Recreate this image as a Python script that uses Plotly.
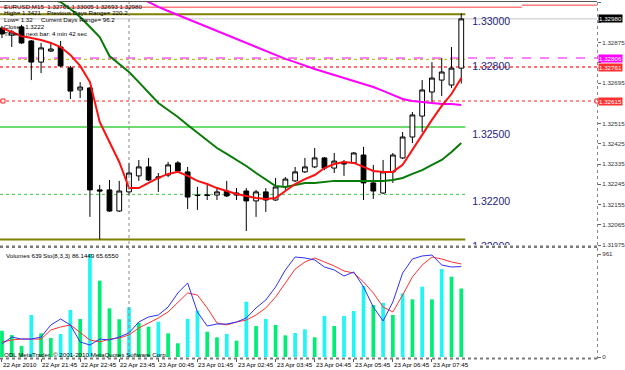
import plotly.graph_objects as go

# ---------------- data ----------------
x_tick_bars = [0, 4, 8, 12, 16, 20, 24, 28, 32, 36, 40, 44]
x_tick_labels = ["22 Apr 2010", "22 Apr 21:45", "22 Apr 22:45", "22 Apr 23:45",
                 "23 Apr 00:45", "23 Apr 01:45", "23 Apr 02:45", "23 Apr 03:45",
                 "23 Apr 04:45", "23 Apr 05:45", "23 Apr 06:45", "23 Apr 07:45"]

opens = [1.32939, 1.32908, 1.32944, 1.32882, 1.32788, 1.32837, 1.32855, 1.32762,
         1.32664, 1.32673, 1.32220, 1.32220, 1.32126, 1.32211, 1.32282, 1.32322,
         1.32273, 1.32286, 1.32340, 1.32300, 1.32197, 1.32195, 1.32197, 1.32215,
         1.32197, 1.32215, 1.32171, 1.32211, 1.32175, 1.32233, 1.32260, 1.32300,
         1.32322, 1.32362, 1.32317, 1.32344, 1.32340, 1.32375, 1.32251, 1.32206,
         1.32300, 1.32362, 1.32455, 1.32548, 1.32655, 1.32708, 1.32686, 1.32761]
highs = [1.32948, 1.32931, 1.32953, 1.32886, 1.32873, 1.32877, 1.32882, 1.32771,
         1.32699, 1.32677, 1.32242, 1.32264, 1.32260, 1.32340, 1.32353, 1.32362,
         1.32295, 1.32344, 1.32348, 1.32322, 1.32233, 1.32242, 1.32233, 1.32260,
         1.32228, 1.32228, 1.32220, 1.32228, 1.32273, 1.32277, 1.32322, 1.32362,
         1.32406, 1.32366, 1.32384, 1.32353, 1.32388, 1.32411, 1.32331, 1.32353,
         1.32384, 1.32477, 1.32566, 1.32708, 1.32788, 1.32806, 1.32855, 1.33005]
lows = [1.32895, 1.32855, 1.32868, 1.32708, 1.32739, 1.32833, 1.32766, 1.32624,
        1.32628, 1.32100, 1.32000, 1.32122, 1.32122, 1.32197, 1.32260, 1.32260,
        1.32211, 1.32277, 1.32300, 1.32135, 1.32131, 1.32175, 1.32175, 1.32188,
        1.32175, 1.32037, 1.32100, 1.32122, 1.32171, 1.32220, 1.32255, 1.32295,
        1.32317, 1.32308, 1.32295, 1.32282, 1.32335, 1.32175, 1.32180, 1.32202,
        1.32251, 1.32357, 1.32428, 1.32477, 1.32611, 1.32637, 1.32673, 1.32693]
closes = [1.32913, 1.32922, 1.32873, 1.32788, 1.32851, 1.32846, 1.32771, 1.32659,
          1.32677, 1.32220, 1.32215, 1.32126, 1.32215, 1.32295, 1.32322, 1.32264,
          1.32277, 1.32331, 1.32304, 1.32188, 1.32195, 1.32197, 1.32211, 1.32193,
          1.32206, 1.32171, 1.32211, 1.32175, 1.32233, 1.32268, 1.32300, 1.32322,
          1.32362, 1.32317, 1.32348, 1.32335, 1.32384, 1.32251, 1.32215, 1.32300,
          1.32375, 1.32455, 1.32553, 1.32664, 1.32717, 1.32744, 1.32761, 1.32980]

ma_red = [1.32939, 1.32922, 1.32904, 1.32895, 1.32886, 1.32873, 1.32855, 1.32820,
          1.32771, 1.32699, 1.32522, 1.32433, 1.32344, 1.32228, 1.32228, 1.32251,
          1.32273, 1.32291, 1.32300, 1.32282, 1.32260, 1.32246, 1.32228, 1.32215,
          1.32202, 1.32193, 1.32184, 1.32180, 1.32184, 1.32215, 1.32246, 1.32268,
          1.32286, 1.32317, 1.32335, 1.32344, 1.32340, 1.32322, 1.32304, 1.32300,
          1.32300, 1.32331, 1.32397, 1.32468, 1.32531, 1.32593, 1.32646, 1.32717]
ma_green = [1.33175, 1.33144, 1.33117, 1.33095, 1.33077, 1.33068, 1.33055, 1.33024,
            1.32988, 1.32944, 1.32899, 1.32815, 1.32780, 1.32744, 1.32699, 1.32651,
            1.32606, 1.32575, 1.32544, 1.32508, 1.32473, 1.32442, 1.32406, 1.32380,
            1.32353, 1.32326, 1.32295, 1.32264, 1.32237, 1.32233, 1.32242, 1.32251,
            1.32251, 1.32255, 1.32260, 1.32260, 1.32260, 1.32260, 1.32260, 1.32260,
            1.32264, 1.32273, 1.32291, 1.32308, 1.32331, 1.32353, 1.32388, 1.32428]
ma_magenta = [None, None, None, None, None, None, None, None, None, None, None, None, None,
              1.33099, 1.33077, 1.33055, 1.33033, 1.33015, 1.32997, 1.32980, 1.32962,
              1.32944, 1.32926, 1.32908, 1.32891, 1.32873, 1.32855, 1.32837, 1.32820,
              1.32802, 1.32788, 1.32771, 1.32757, 1.32744, 1.32731, 1.32717, 1.32704,
              1.32691, 1.32677, 1.32660, 1.32642, 1.32624, 1.32615, 1.32611, 1.32606,
              1.32602, 1.32602, 1.32597]

volumes = [245, 205, 103, 392, 221, 177, 215, 439, 355, 961, 712, 454, 352, 464, 320, 283,
           329, 221, 128, 355, 432, 236, 184, 215, 152, 516, 289, 355, 299, 202, 224, 258,
           184, 383, 289, 383, 429, 662, 485, 507, 392, 594, 538, 656, 538, 821, 749, 639]

stoch_main = [12.4, 19.0, 17.1, 17.1, 19.0, 30.5, 36.2, 30.5, 14.3, 11.4, 17.1, 16.2,
              19.0, 22.9, 33.3, 38.1, 40.0, 47.6, 61.0, 70.5, 42.9, 29.5, 31.4, 31.4,
              33.3, 37.1, 46.7, 54.3, 66.7, 82.9, 95.2, 94.3, 92.4, 85.7, 82.9, 77.1,
              81.0, 66.7, 47.6, 34.3, 52.4, 80.0, 93.3, 96.2, 97.1, 87.6, 85.7, 86.1]
stoch_signal = [14.3, 16.2, 17.1, 17.1, 17.1, 25.7, 28.6, 30.5, 22.9, 16.2, 14.3, 17.1,
                18.1, 21.0, 27.6, 32.4, 37.1, 42.9, 52.4, 61.0, 59.0, 46.7, 32.4, 30.5,
                33.3, 35.2, 40.0, 46.7, 57.1, 70.5, 83.8, 90.5, 94.3, 90.5, 86.7, 81.9,
                80.0, 71.4, 61.0, 47.6, 42.9, 59.0, 76.2, 87.6, 95.2, 93.3, 90.5, 88.6]

price_ticks = [1.33055, 1.32965, 1.32875, 1.32785, 1.32695, 1.32605, 1.32515,
               1.32425, 1.32335, 1.32245, 1.32155, 1.32065, 1.31975]
# labels hidden under the price tags in the reference are left blank
price_tick_labels = ["1.33055", "", "1.32875", "", "1.32695", "", "1.32515",
                     "1.32425", "1.32335", "1.32245", "1.32155", "1.32065", "1.31975"]
vol_ticks = [0, 961]
vol_tick_labels = ["0", "961"]

round_levels = [1.33000, 1.32800, 1.32500, 1.32200, 1.32000]
round_level_labels = ["1.33000", "1.32800", "1.32500", "1.32200", "1.32000"]

line_levels = [1.33032, 1.33041, 1.33000, 1.32980, 1.32806, 1.32800, 1.32766, 1.32615,
               1.32500, 1.32200, 1.32000]

tag_prices = [1.32980, 1.32806, 1.32766, 1.32615]
tag_labels = ["1.32980", "1.32806", "1.32761", "1.32615"]

header_lines = ["EURUSD,M15  1.32761 1.33005 1.32693 1.32980",
                "High= 1.3421", "Low= 1.32", "Close= 1.3222",
                "Time to next bar: 4 min 42 sec"]
header_extra = ["Previous Days Range= 220.2", "Current Days Range= 96.2"]
sub_label = ["Volumes 639", "Sto(8,3,3) 86.1449 65.6550"]
copyright_text = "ODL MetaTrader, \u00a9 2001-2010 MetaQuotes Software Corp."
cursor_bar = 13

# ---------------- geometry / style ----------------
W, H = 625, 370
ML, MR, MT, MB = 0, 22, 2, 12
PW = W - ML - MR
PH = H - MT - MB
BAR_PX = 9.87
X0_PX = 2.0
FONT = "Liberation Sans, Arial, sans-serif"


def py(y):
    return (H - MB - y) / PH


def px(x):
    return (x - ML) / PW


bars = list(range(len(opens)))
x_range = [-X0_PX / BAR_PX, (PW - X0_PX) / BAR_PX]

fig = go.Figure()

fig.add_trace(go.Candlestick(
    x=bars, open=opens, high=highs, low=lows, close=closes,
    increasing=dict(line=dict(color="#000000", width=1), fillcolor="#FFFFFF"),
    decreasing=dict(line=dict(color="#000000", width=1), fillcolor="#000000"),
    whiskerwidth=0, showlegend=False, hoverinfo="skip", xaxis="x", yaxis="y"))

fig.add_trace(go.Scatter(x=bars, y=ma_magenta, mode="lines", line=dict(color="#FF00FF", width=2),
                         showlegend=False, hoverinfo="skip", xaxis="x", yaxis="y"))
fig.add_trace(go.Scatter(x=bars, y=ma_green, mode="lines", line=dict(color="#087A08", width=2),
                         showlegend=False, hoverinfo="skip", xaxis="x", yaxis="y"))
fig.add_trace(go.Scatter(x=bars, y=ma_red, mode="lines", line=dict(color="#FF1010", width=2),
                         showlegend=False, hoverinfo="skip", xaxis="x", yaxis="y"))

LABEL_X = (474 - X0_PX) / BAR_PX
fig.add_trace(go.Scatter(x=[LABEL_X] * len(round_levels), y=round_levels, mode="markers+text",
                         marker=dict(size=3, opacity=0),
                         text=round_level_labels, textposition="bottom right",
                         textfont=dict(family=FONT, size=10.5, color="#25257F"),
                         cliponaxis=True, showlegend=False, hoverinfo="skip",
                         xaxis="x", yaxis="y"))

vol_colors = ["#00EE76"] + ["#22F5F5" if volumes[i] > volumes[i - 1] else "#00EE76"
                            for i in range(1, len(volumes))]
fig.add_trace(go.Bar(x=bars, y=volumes, marker=dict(color=vol_colors, line=dict(width=0)),
                     width=0.38, showlegend=False, hoverinfo="skip", xaxis="x2", yaxis="y2"))
fig.add_trace(go.Scatter(x=bars, y=stoch_signal, mode="lines", line=dict(color="#FF3030", width=1),
                         showlegend=False, hoverinfo="skip", xaxis="x2", yaxis="y3"))
fig.add_trace(go.Scatter(x=bars, y=stoch_main, mode="lines", line=dict(color="#2F2FFF", width=1),
                         showlegend=False, hoverinfo="skip", xaxis="x2", yaxis="y3"))

# ---------------- shapes ----------------
level_styles = [
    (0, px(527), "#FF3A3A", 1, "solid"),
    (px(527), 1, "#FF3A3A", 1, "solid"),
    (0, px(470), "#808000", 2, "solid"),
    (0, 1, "#C4C4C4", 1, "solid"),
    (0, 1, "#FF00FF", 1, "dash"),
    (0, px(470), "#B5B500", 1, "dot"),
    (0, 1, "#FF7070", 2, "dot"),
    (0, 1, "#FF2020", 1, "dot"),
    (0, px(470), "#6EDC6E", 2, "solid"),
    (0, px(470), "#44C844", 1, "3px,3px"),
    (0, px(470), "#808000", 2, "solid"),
]
shapes = []
for lvl, (x0, x1, col, w, dash) in zip(line_levels, level_styles):
    shapes.append(dict(type="line", xref="paper", yref="y", x0=x0, x1=x1, y0=lvl, y1=lvl,
                       line=dict(color=col, width=w, dash=dash), layer="below"))

for xa in (px(3), px(603)):
    shapes.append(dict(type="rect", xref="paper", yref="y", xsizemode="pixel", ysizemode="pixel",
                       xanchor=xa, yanchor=line_levels[7], x0=-2, x1=2, y0=-2, y1=2,
                       line=dict(color="#FF2020", width=1), fillcolor="#FFFFFF"))

shapes.append(dict(type="line", xref="x", yref="paper", x0=cursor_bar, x1=cursor_bar,
                   y0=0, y1=py(0), line=dict(color="#888888", width=1, dash="dot")))
shapes.append(dict(type="line", xref="paper", yref="paper", x0=0, x1=1, y0=py(1.5), y1=py(1.5),
                   line=dict(color="#555555", width=1)))
shapes.append(dict(type="rect", xref="paper", yref="paper", x0=0, x1=1, y0=py(248), y1=py(245.5),
                   line=dict(width=0), fillcolor="#FFFFFF"))
shapes.append(dict(type="line", xref="paper", yref="paper", x0=0, x1=1, y0=py(246.8), y1=py(246.8),
                   line=dict(color="#7A7A7A", width=2.5, dash="dot")))
shapes.append(dict(type="line", xref="paper", yref="paper", x0=0, x1=1, y0=py(358.5), y1=py(358.5),
                   line=dict(color="#7A7A7A", width=2, dash="dot")))
shapes.append(dict(type="line", xref="paper", yref="paper", x0=px(603.5), x1=px(603.5), y0=py(359), y1=py(1.5),
                   line=dict(color="#8A8A8A", width=1, dash="dot")))

# ---------------- annotations ----------------
ann = []
small = dict(family=FONT, size=6.2, color="#000000")
header_y = [6, 12.8, 19.8, 26.8, 33.8]
for txt, yy in zip(header_lines, header_y):
    ann.append(dict(xref="paper", yref="paper", x=px(2), y=py(yy), text=txt, showarrow=False,
                    xanchor="left", yanchor="middle", font=small))
for txt, xx, yy in zip(header_extra, [45, 39], [12.8, 19.8]):
    ann.append(dict(xref="paper", yref="paper", x=px(xx), y=py(yy), text=txt, showarrow=False,
                    xanchor="left", yanchor="middle", font=small))
for txt, xx in zip(sub_label, [4, 41]):
    ann.append(dict(xref="paper", yref="paper", x=px(xx), y=py(255), text=txt, showarrow=False,
                    xanchor="left", yanchor="middle", font=small))
ann.append(dict(xref="paper", yref="paper", x=px(2), y=py(354), text=copyright_text, showarrow=False,
                xanchor="left", yanchor="middle", font=small))
for b, txt in zip(x_tick_bars, x_tick_labels):
    ann.append(dict(xref="x2", yref="paper", x=b, y=py(364), text=txt, showarrow=False,
                    xanchor="left", yanchor="middle", xshift=-1, font=small))
tag_colors = ["#000000", "#FF00FF", "#FF3030", "#FF3030"]
for p, txt, col in zip(tag_prices, tag_labels, tag_colors):
    ann.append(dict(xref="paper", yref="y", x=1, y=p, text=txt, showarrow=False,
                    xanchor="left", yanchor="middle", xshift=1, bgcolor=col, borderpad=0,
                    font=dict(family=FONT, size=6.2, color="#FFFFFF")))

fig.update_layout(
    width=W, height=H, margin=dict(l=ML, r=MR, t=MT, b=MB),
    paper_bgcolor="#FFFFFF", plot_bgcolor="#FFFFFF",
    showlegend=False, shapes=shapes, annotations=ann, hovermode=False,
    font=dict(family=FONT, size=6.2, color="#000000"),
    xaxis=dict(domain=[0, 1], range=x_range, anchor="y", showgrid=False, zeroline=False,
               showticklabels=False, ticks="", rangeslider=dict(visible=False), fixedrange=True),
    xaxis2=dict(domain=[0, 1], range=x_range, anchor="y2", matches="x", showgrid=False,
                zeroline=False, showticklabels=False, ticks="outside", ticklen=3,
                tickcolor="#555555", tickvals=x_tick_bars, fixedrange=True),
    yaxis=dict(domain=[py(245), 1], range=[1.31975, 1.33055], side="right", anchor="x",
               tickvals=price_ticks, ticktext=price_tick_labels, ticks="outside", ticklen=3,
               tickcolor="#666666", tickfont=dict(family=FONT, size=6.2, color="#333333"),
               showgrid=False, zeroline=False, showline=False, fixedrange=True),
    yaxis2=dict(domain=[0, py(248)], range=[-9.33, 1017], side="right", anchor="x2",
                tickvals=vol_ticks, ticktext=vol_tick_labels, ticks="outside", ticklen=3,
                tickcolor="#666666", tickfont=dict(family=FONT, size=6.2, color="#333333"),
                showgrid=False, zeroline=False, showline=False, fixedrange=True),
    yaxis3=dict(overlaying="y2", range=[-0.95, 103.8], visible=False, anchor="x2", fixedrange=True),
)

fig.write_html("out.html", config={"displayModeBar": False})
